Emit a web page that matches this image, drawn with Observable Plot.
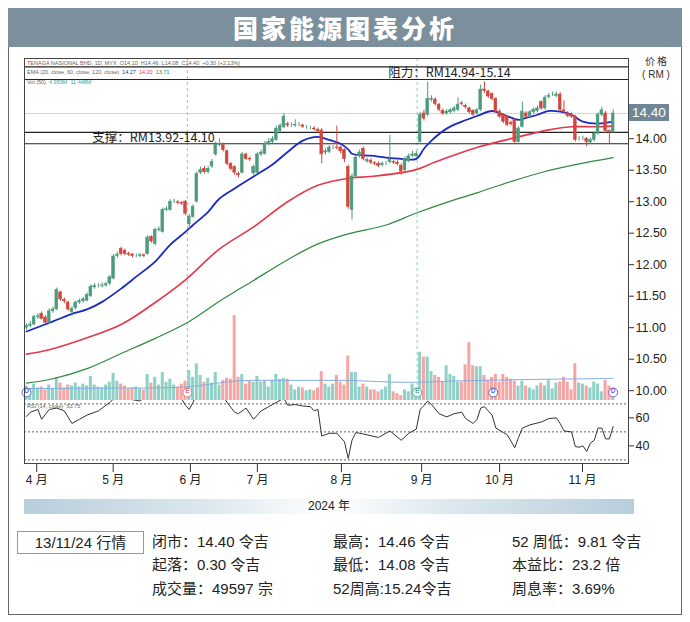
<!DOCTYPE html>
<html><head><meta charset="utf-8">
<script src="https://cdn.jsdelivr.net/npm/d3@7"></script>
<script src="https://cdn.jsdelivr.net/npm/@observablehq/plot@0.6"></script>
<style>
html,body{margin:0;padding:0;background:#fff;}
#wrap{position:relative;width:690px;height:622px;overflow:hidden;font-family:"Liberation Sans",Arial,"Noto Sans CJK SC",sans-serif;color:#222;}
#wrap svg{position:absolute;left:0;top:0;}
.abs{position:absolute;white-space:nowrap;}
.info{position:absolute;font-size:15px;white-space:nowrap;line-height:18px;font-family:"Liberation Sans",Arial,"Noto Sans CJK SC",sans-serif;}
.tiny{position:absolute;font-size:5.5px;color:#666;white-space:nowrap;line-height:6px;}
</style></head><body><div id="wrap"></div>
<script>
// ---------- data ----------
const open = [11.00,11.03,11.05,11.17,11.22,11.16,11.08,11.26,11.29,11.56,
 11.44,11.40,11.25,11.31,11.40,11.42,11.43,11.50,11.64,11.66,
 11.66,11.67,11.70,11.78,12.14,12.25,12.22,12.17,12.16,12.14,
 12.14,12.15,12.17,12.44,12.33,12.55,12.52,12.87,12.87,13.00,
 12.99,12.98,13.00,12.64,12.76,13.00,13.46,13.52,13.47,13.56,
 13.75,13.90,13.90,13.80,13.60,13.55,13.44,13.46,13.75,13.68,
 13.45,13.46,13.75,13.76,13.92,13.95,13.98,14.12,14.18,14.23,
 14.21,14.21,14.22,14.21,14.18,14.17,14.16,14.14,14.13,13.78,
 13.79,13.86,13.86,13.86,13.82,13.55,12.87,13.40,13.72,13.84,
 13.64,13.65,13.61,13.60,13.58,13.60,13.63,13.63,13.62,13.57,
 13.50,13.64,13.73,13.72,13.95,14.40,14.38,14.62,14.62,14.54,
 14.44,14.40,14.42,14.44,14.46,14.56,14.52,14.48,14.44,14.40,
 14.46,14.78,14.75,14.71,14.63,14.43,14.38,14.35,14.25,14.30,
 13.95,14.19,14.40,14.36,14.42,14.44,14.58,14.48,14.66,14.70,
 14.68,14.70,14.45,14.40,14.38,14.35,13.99,14.00,14.00,13.94,
 13.98,14.08,14.38,14.40,14.12,14.10];
const close = [11.03,11.05,11.17,11.18,11.14,11.08,11.26,11.29,11.60,11.45,
 11.42,11.29,11.30,11.40,11.42,11.45,11.52,11.65,11.66,11.66,
 11.67,11.69,11.80,12.13,12.16,12.17,12.17,12.16,12.14,12.14,
 12.15,12.14,12.43,12.37,12.55,12.56,12.87,12.88,13.00,13.00,
 12.98,12.97,12.81,12.76,12.92,13.44,13.50,13.47,13.52,13.63,
 13.90,13.92,13.82,13.60,13.52,13.46,13.42,13.75,13.68,13.67,
 13.55,13.75,13.78,13.92,13.95,13.99,14.16,14.20,14.35,14.21,
 14.21,14.22,14.22,14.19,14.18,14.17,14.15,14.12,13.75,13.80,
 13.86,13.86,13.85,13.80,13.68,12.92,13.40,13.70,13.78,13.68,
 13.66,13.62,13.60,13.57,13.60,13.60,13.66,13.62,13.60,13.48,
 13.68,13.72,13.75,13.76,14.38,14.32,14.63,14.63,14.55,14.46,
 14.40,14.43,14.45,14.48,14.54,14.55,14.50,14.42,14.38,14.45,
 14.78,14.76,14.67,14.63,14.43,14.35,14.27,14.22,14.23,13.95,
 14.16,14.43,14.35,14.42,14.46,14.48,14.48,14.65,14.68,14.70,
 14.70,14.46,14.43,14.36,14.35,13.98,13.99,14.00,13.95,13.98,
 14.08,14.38,14.45,14.12,14.10,14.40];
const high = [11.06,11.10,11.20,11.22,11.25,11.19,11.30,11.33,11.63,11.58,
 11.47,11.42,11.33,11.42,11.45,11.48,11.55,11.68,11.70,11.70,
 11.71,11.72,11.83,12.16,12.20,12.28,12.25,12.20,12.18,12.17,
 12.18,12.17,12.46,12.46,12.58,12.60,12.90,12.92,13.03,13.04,
 13.02,13.00,13.02,12.80,12.95,13.47,13.55,13.56,13.56,13.67,
 13.95,14.00,13.93,13.82,13.62,13.57,13.47,13.78,13.77,13.71,
 13.58,13.78,13.82,13.96,14.00,14.03,14.20,14.24,14.40,14.26,
 14.25,14.30,14.26,14.23,14.21,14.20,14.19,14.17,14.16,13.84,
 13.89,13.89,14.20,13.88,13.84,13.58,13.44,13.74,13.82,13.87,
 13.69,13.68,13.64,13.63,13.63,13.64,14.05,13.66,13.65,13.60,
 13.71,13.76,13.80,13.80,14.42,14.45,14.90,14.68,14.65,14.56,
 14.47,14.46,14.48,14.51,14.65,14.59,14.55,14.50,14.46,14.48,
 14.85,14.90,14.77,14.73,14.65,14.46,14.40,14.37,14.28,14.32,
 14.19,14.58,14.43,14.45,14.49,14.52,14.60,14.68,14.72,14.74,
 14.74,14.73,14.60,14.43,14.41,14.37,14.03,14.04,14.02,14.01,
 14.11,14.41,14.50,14.43,14.14,14.46];
const low = [10.96,11.00,11.03,11.13,11.12,11.05,11.06,11.23,11.27,11.42,
 11.38,11.26,11.18,11.28,11.37,11.39,11.41,11.48,11.61,11.63,
 11.63,11.64,11.67,11.76,12.10,12.14,12.14,12.13,12.11,12.11,
 12.11,12.11,12.15,12.34,12.30,12.52,12.50,12.84,12.85,12.97,
 12.95,12.94,12.78,12.57,12.74,12.98,13.43,13.44,13.44,13.53,
 13.72,13.87,13.79,13.57,13.49,13.42,13.38,13.44,13.65,13.64,
 13.42,13.44,13.72,13.74,13.89,13.92,13.96,14.09,14.16,14.18,
 14.18,14.18,14.19,14.16,14.15,14.14,14.12,14.09,13.60,13.74,
 13.76,13.83,13.82,13.76,13.62,12.88,12.71,13.38,13.69,13.65,
 13.61,13.59,13.57,13.54,13.55,13.57,13.60,13.59,13.57,13.42,
 13.47,13.62,13.70,13.70,13.93,14.28,14.35,14.58,14.52,14.43,
 14.37,14.37,14.39,14.41,14.43,14.52,14.47,14.39,14.35,14.37,
 14.43,14.72,14.64,14.60,14.40,14.32,14.24,14.19,14.20,13.92,
 13.93,14.17,14.32,14.33,14.39,14.41,14.45,14.45,14.63,14.67,
 14.65,14.43,14.40,14.33,14.32,13.95,13.96,13.97,13.87,13.91,
 13.95,14.06,14.35,14.08,13.92,14.08];
// volume, millions of shares
const volume = [7.5,6.0,8.5,6.5,7.0,5.5,8.0,6.0,12.0,9.0,
 6.5,8.0,7.5,9.0,7.0,8.5,7.5,12.5,8.0,7.0,
 6.5,8.0,9.5,14.0,10.0,8.5,7.5,6.0,6.5,7.0,
 6.0,5.5,13.5,9.0,12.0,8.0,14.5,9.5,11.0,8.0,
 7.0,8.5,10.0,15.5,12.0,19.0,13.0,9.5,11.5,9.0,
 14.5,8.0,10.5,11.5,11.0,44.0,12.0,13.5,8.5,10.0,
 9.5,12.5,9.5,10.0,7.0,10.5,13.5,11.0,11.5,11.0,
 8.0,5.5,7.0,6.5,5.0,5.5,5.0,6.5,15.0,8.5,
 7.0,8.5,13.0,9.5,8.0,23.0,14.5,14.5,7.0,8.5,
 7.0,5.5,5.5,4.5,5.5,7.0,13.5,4.5,3.5,2.5,
 5.5,4.5,8.5,6.0,25.0,22.5,22.5,15.0,13.0,12.0,
 9.5,18.0,13.5,12.5,9.5,9.5,18.5,30.0,18.0,17.5,
 17.5,13.0,10.5,12.0,13.5,9.5,13.5,12.0,11.0,10.0,
 7.5,10.0,7.5,6.5,5.5,7.5,9.0,7.5,10.5,6.0,
 9.0,9.5,12.0,9.5,5.5,19.0,9.0,8.5,7.5,6.5,
 9.5,8.5,4.5,10.5,7.5,4.96];
const volMaIdx = [0,20,40,46,56,70,85,100,115,130,145,155];
const volMaVal = [6.2,6.4,6.8,7.8,10.2,10.4,10.4,9.4,10.2,10.8,11.2,11.45];

const emaBlueIdx = [0,7,12,16,20,25,29,34,38,42,44,48,51,55,60,65,69,73,77,80,83,85,86,91,95,99,103,105,107,111,115,119,123,126,130,132,135,138,141,144,147,151,155];
const emaBlueVal = [10.94,11.10,11.22,11.29,11.41,11.62,11.81,12.05,12.32,12.52,12.63,12.84,13.05,13.21,13.40,13.59,13.79,13.97,14.03,13.98,13.92,13.83,13.76,13.73,13.70,13.68,13.68,13.84,13.97,14.16,14.27,14.36,14.44,14.38,14.30,14.33,14.38,14.44,14.43,14.38,14.27,14.24,14.27];
const emaRedIdx = [0,6,16,25,34,42,51,60,69,77,86,91,103,108,119,128,138,144,150,155];
const emaRedVal = [10.58,10.65,10.84,11.05,11.40,11.76,12.25,12.60,13.00,13.26,13.38,13.40,13.51,13.63,13.86,14.00,14.14,14.19,14.19,14.20];
const emaGreenIdx = [0,7,16,25,34,43,51,60,69,77,85,95,103,111,119,128,137,146,155];
const emaGreenVal = [10.12,10.19,10.35,10.59,10.83,11.10,11.42,11.75,12.08,12.33,12.49,12.63,12.82,12.99,13.14,13.32,13.48,13.60,13.70];

const rsiIdx = [0,1,3,4,6,8,10,12,14,16,19,22,24,26,28,30,32,34,36,38,40,42,43,44,45,48,51,53,55,56,58,60,62,64,65,66,68,69,71,72,73,75,76,77,78,80,82,83,84,85,86,87,89,93,96,99,101,103,104,105,106,107,109,111,113,115,116,118,119,120,121,123,124,126,127,129,130,131,133,136,138,140,141,142,144,145,146,147,148,149,150,151,152,153,154,155];
const rsiVal = [61,64,66,59,66,67,65,56,59,62,65,71,76,75,73,72,77,76,80,81,78,69,66,71,78,79,80,71,64,63,67,59,65,68,69.5,71,74,69,69.5,69,68.5,68,65,66,47,49,49,46,43,31,44,49.5,48.5,46,50.7,44,49,52,66,68.7,72,69.5,63,60.7,63,64,59.5,56,58.7,67,68,62,52.7,49.5,48,38.7,46,52.7,55,57,59.5,60,56,50.7,50,39.5,39,40,36,42,44,52.7,52.7,45,45,53.75];
const rsiLevels = [70,50,30];
const rsiTicks = [40,60];

const priceTicks = [10,10.5,11,11.5,12,12.5,13,13.5,14];
const supportLevels = [13.92,14.10];
const resistLevels = [14.94,15.14];
const lastClose = 14.40;
const monthPos = [2.7,22.9,43.3,61.0,83.2,104.4,125.0,146.9];
const monthLabels = ["4 月","5 月","6 月","7 月","8 月","9 月","10 月","11 月"];
const eventLineIdx = [42.5,103.2];
const eventLineColor = ["#b9b9b9","#8fcac1"];
const markerIdx = [0,42.5,103.2,123.3,155];
const markerText = ["D","E","E","D","D"];
const markerColor = ["#4a6fc9","#e0737c","#4fa79c","#4a6fc9","#7e5ccc"];
const notes = [
  {i:95.6, p:15.04, t:"阻力：RM14.94-15.14"},
  {i:17.4, p:14.01, t:"支撑：RM13.92-14.10"}
];

// ---------- build ----------
const G = "#4e9b7c", R = "#d2463f", VG = "#90d1c7", VR = "#f5a5a4";
const candles = open.map((o,i)=>({i, o, c:close[i], h:high[i], l:low[i], v:volume[i], up: close[i]>=open[i]}));
const pts = (ix, vals) => ix.map((x,k)=>({x, y:vals[k]}));
const xDom = [-0.53, 159.05];
const baseStyle = {background:"transparent", overflow:"visible", fontFamily:"'Liberation Sans', Arial, sans-serif", fontSize:"12.5px", color:"#222"};
const wrap = document.getElementById("wrap");

const volPlot = Plot.plot({
  width:690, height:470, marginLeft:24, marginRight:62, marginTop:58, marginBottom:70,
  x:{domain:xDom, axis:null}, y:{domain:[0,177.2], axis:null}, style:baseStyle,
  marks:[
    Plot.rect(candles, {x1:d=>d.i-0.4, x2:d=>d.i+0.4, y1:0, y2:"v", fill:d=>d.up?VG:VR}),
    Plot.line(pts(volMaIdx, volMaVal), {x:"x", y:"y", stroke:"#86ade0", strokeWidth:1, curve:"catmull-rom"})
  ]
});

const pricePlot = Plot.plot({
  width:690, height:470, marginLeft:24, marginRight:62, marginTop:58, marginBottom:70,
  x:{domain:xDom, axis:null}, y:{domain:[9.8444,15.273], axis:null}, style:baseStyle,
  marks:[
    Plot.ruleY([lastClose], {stroke:"#d4d4d4", strokeWidth:1}),
    Plot.ruleX(eventLineIdx.map((i,k)=>({i, c:eventLineColor[k]})), {x:"i", stroke:"c", strokeDasharray:"3,3", strokeWidth:1}),
    Plot.ruleY([...resistLevels, ...supportLevels], {stroke:"#222", strokeWidth:1.1}),
    Plot.line(pts(emaGreenIdx, emaGreenVal), {x:"x", y:"y", stroke:"#2f8a3e", strokeWidth:1.2, curve:"catmull-rom"}),
    Plot.line(pts(emaRedIdx, emaRedVal), {x:"x", y:"y", stroke:"#e23a4b", strokeWidth:1.7, curve:"catmull-rom"}),
    Plot.line(pts(emaBlueIdx, emaBlueVal), {x:"x", y:"y", stroke:"#1b2bc0", strokeWidth:1.8, curve:"catmull-rom"}),
    Plot.ruleX(candles, {x:"i", y1:"l", y2:"h", stroke:d=>d.up?G:R, strokeWidth:1}),
    Plot.rect(candles, {x1:d=>d.i-0.36, x2:d=>d.i+0.36, y1:"o", y2:"c", fill:d=>d.up?G:R, stroke:d=>d.up?G:R, strokeWidth:0.6}),
    Plot.text(notes, {x:"i", y:"p", text:"t", textAnchor:"start", fontSize:12.5, fill:"#222", fontFamily:"'Noto Sans CJK SC', sans-serif"}),
    Plot.axisY({ticks:priceTicks, anchor:"right", tickSize:5, tickPadding:2, tickFormat:d=>d.toFixed(2), fontSize:12.5, label:null, stroke:"#333", fill:"#222"})
  ]
});

const markPlot = Plot.plot({
  width:690, height:470, marginLeft:24, marginRight:62, marginTop:58, marginBottom:70,
  x:{domain:xDom, axis:null}, style:baseStyle,
  marks:[
    Plot.dot(markerIdx.map((i,k)=>({i, t:markerText[k], c:markerColor[k]})), {x:"i", frameAnchor:"bottom", dy:-8, r:4.5, fill:"white", stroke:"c", strokeWidth:1}),
    Plot.text(markerIdx.map((i,k)=>({i, t:markerText[k], c:markerColor[k]})), {x:"i", frameAnchor:"bottom", dy:-8, text:"t", fill:"c", fontSize:6.5, fontWeight:"bold"})
  ]
});

const monthMap = new Map(monthPos.map((p,k)=>[p, monthLabels[k]]));
const rsiPlot = Plot.plot({
  width:690, height:500, marginLeft:24, marginRight:62, marginTop:400, marginBottom:37,
  x:{domain:xDom, axis:null}, y:{domain:[27.4,72.4], axis:null}, style:baseStyle,
  marks:[
    Plot.ruleY(rsiLevels, {stroke:"#555", strokeDasharray:"2,2", strokeWidth:0.9}),
    Plot.line(pts(rsiIdx, rsiVal), {x:"x", y:"y", stroke:"#333", strokeWidth:1, clip:true}),
    Plot.axisY({ticks:rsiTicks, anchor:"right", tickSize:5, tickPadding:2, fontSize:12.5, label:null, stroke:"#333", fill:"#222"}),
    Plot.axisX({ticks:monthPos, tickFormat:d=>monthMap.get(d), anchor:"bottom", tickSize:9, tickPadding:3, fontSize:12, label:null, stroke:"#333", fill:"#222", fontFamily:"'Liberation Sans','Noto Sans CJK SC',sans-serif"})
  ]
});

// frame + header + texts
function div(cls, css, html){const d=document.createElement("div"); d.className=cls; d.style.cssText=css; d.innerHTML=html||""; wrap.appendChild(d); return d;}
div("abs","left:8px;top:8px;width:674px;height:607px;border:1px solid #666;box-sizing:border-box;");
div("abs","left:8px;top:8px;width:674px;height:39px;background:#7b909c;color:#fff;font-family:'Noto Sans CJK SC',sans-serif;font-weight:900;font-size:25px;letter-spacing:3px;text-align:center;line-height:39px;","国家能源图表分析");
wrap.appendChild(volPlot);
wrap.appendChild(pricePlot);
wrap.appendChild(markPlot);
wrap.appendChild(rsiPlot);
div("abs","left:24px;top:58px;width:605px;height:406px;border:1px solid #444;box-sizing:border-box;");

const yLast = pricePlot.scale("y").apply(lastClose);
div("abs",`left:629px;top:${yLast-8.5}px;width:40px;height:17px;background:#6f8794;color:#fff;font-size:13.5px;line-height:17px;text-align:center;`, lastClose.toFixed(2));
div("abs","left:638px;top:55px;width:36px;height:12px;text-align:center;font-family:'Noto Sans CJK SC',sans-serif;font-size:10px;line-height:12px;color:#333;","价 格");
div("abs","left:638px;top:69px;width:36px;height:12px;text-align:center;font-family:'Liberation Sans',sans-serif;font-size:10px;line-height:12px;color:#333;","( RM )");

div("tiny","left:27px;top:60px;","TENAGA NASIONAL BHD, 1D, MYX&nbsp; O14.10&nbsp; H14.46&nbsp; L14.08&nbsp; C14.40&nbsp; +0.30 (+2.13%)");
div("tiny","left:27px;top:69px;",'EMA (20, close, 60, close, 120, close)&nbsp; <span style="color:#1b2bc0">14.27</span>&nbsp; <span style="color:#e23a4b">14.20</span>&nbsp; <span style="color:#2f8a3e">13.71</span>');
div("tiny","left:27px;top:79px;",'Vol (50)&nbsp; <span style="color:#3aa597">4.959M</span>&nbsp; <span style="color:#3aa597">11.448M</span>');
div("tiny","left:27px;top:403px;","RSI (14, close)&nbsp; 53.75");

div("abs","left:24px;top:499px;width:610px;height:15px;background:linear-gradient(to right,#b7cedb 0%,#dce8ef 30%,#ffffff 50%,#dce8ef 70%,#b7cedb 100%);font-size:12px;line-height:15px;text-align:center;font-family:'Liberation Sans','Noto Sans CJK SC',sans-serif;color:#222;","2024 年");

div("abs","left:17px;top:531px;width:127px;height:23px;border:1px solid #999;box-sizing:border-box;font-size:15px;line-height:21px;text-align:center;font-family:'Liberation Sans','Noto Sans CJK SC',sans-serif;","13/11/24 行情");
const infoCols = [152,333,512];
const infoTops = [533,556,580];
const infoText = [
  ["闭市：14.40 令吉","最高：14.46 令吉","52 周低：9.81 令吉"],
  ["起落：0.30 令吉","最低：14.08 令吉","本益比：23.2 倍"],
  ["成交量：49597 宗","52周高:15.24令吉","周息率：3.69%"]
];
infoText.forEach((row,r)=>row.forEach((t,c)=>div("info",`left:${infoCols[c]}px;top:${infoTops[r]}px;`,t)));
</script></body></html>
